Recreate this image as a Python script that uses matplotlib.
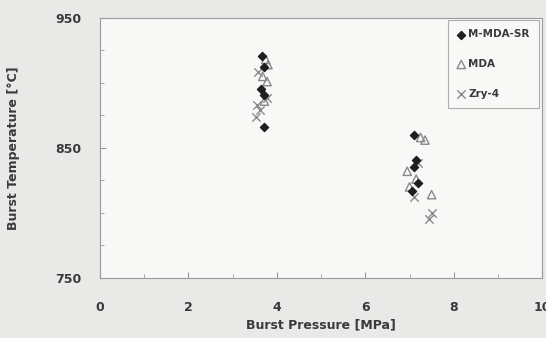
import matplotlib.pyplot as plt
import numpy as np

# Burst data (pressure in MPa, temperature in C)
mmda_sr_p = [3.67, 3.70, 3.65, 3.72, 3.70, 7.10, 7.15, 7.10, 7.20, 7.05]
mmda_sr_t = [921, 912, 895, 891, 866, 860, 841, 835, 823, 817]

mda_p = [3.75, 3.80, 3.68, 3.78, 3.72, 7.35, 7.25, 6.95, 7.00, 7.50, 7.15]
mda_t = [918, 914, 905, 901, 886, 856, 858, 832, 820, 814, 826]

zry4_p = [3.58, 3.55, 3.62, 3.52, 3.78, 7.10, 7.50, 7.45, 7.20]
zry4_t = [908, 883, 879, 874, 888, 812, 800, 795, 838]

series_labels = ['M-MDA-SR', 'MDA', 'Zry-4']

fig = plt.figure(figsize=(5.46, 3.38), dpi=100, facecolor='#e9e9e7')
ax = fig.add_axes([0.183, 0.178, 0.81, 0.769], facecolor='#f8f8f6')

ax.scatter(mmda_sr_p, mmda_sr_t, marker='D', s=17, color='#1e1e1e',
           label=series_labels[0], zorder=3)
ax.scatter(mda_p, mda_t, marker='^', s=36, facecolors='none',
           edgecolors='#8a8a8a', linewidths=1.0, label=series_labels[1], zorder=2)
ax.scatter(zry4_p, zry4_t, marker='x', s=36, color='#8a8a8a',
           linewidths=1.0, label=series_labels[2], zorder=2)

ax.set_xlim(0, 10)
ax.set_ylim(750, 950)
ax.set_xticks(np.arange(0, 11, 2))
ax.set_xticks(np.arange(0, 11, 1), minor=True)
ax.set_yticks([750, 850, 950])
ax.set_yticks(np.arange(750, 951, 25), minor=True)

ax.tick_params(which='both', direction='in', color='#9a9a9a')
ax.tick_params(which='major', length=4)
ax.tick_params(which='minor', length=3)
ax.tick_params(axis='x', which='major', pad=17, labelsize=9, labelcolor='#3a3a3a')
ax.tick_params(axis='y', which='major', pad=13, labelsize=9, labelcolor='#3a3a3a')
for lbl in ax.get_xticklabels() + ax.get_yticklabels():
    lbl.set_fontweight('bold')

for spine in ax.spines.values():
    spine.set_color('#9a9a9a')
    spine.set_linewidth(0.8)

ax.set_xlabel('Burst Pressure [MPa]', fontsize=9, fontweight='bold',
              color='#3a3a3a', labelpad=3)
ax.set_ylabel('Burst Temperature [°C]', fontsize=9, fontweight='bold',
              color='#3a3a3a', labelpad=26)

leg = ax.legend(loc='upper right', bbox_to_anchor=(0.997, 1.0), fontsize=7.5,
                frameon=True, fancybox=False, edgecolor='#9a9a9a',
                labelspacing=1.9, handlelength=0.7, handletextpad=0.3,
                borderpad=0.9, borderaxespad=0.2)
leg.get_frame().set_facecolor('#f8f8f6')
leg.get_frame().set_linewidth(0.8)
for t in leg.get_texts():
    t.set_color('#3a3a3a')
    t.set_fontweight('bold')

plt.savefig('out.png', dpi=100, facecolor=fig.get_facecolor())
plt.close()
